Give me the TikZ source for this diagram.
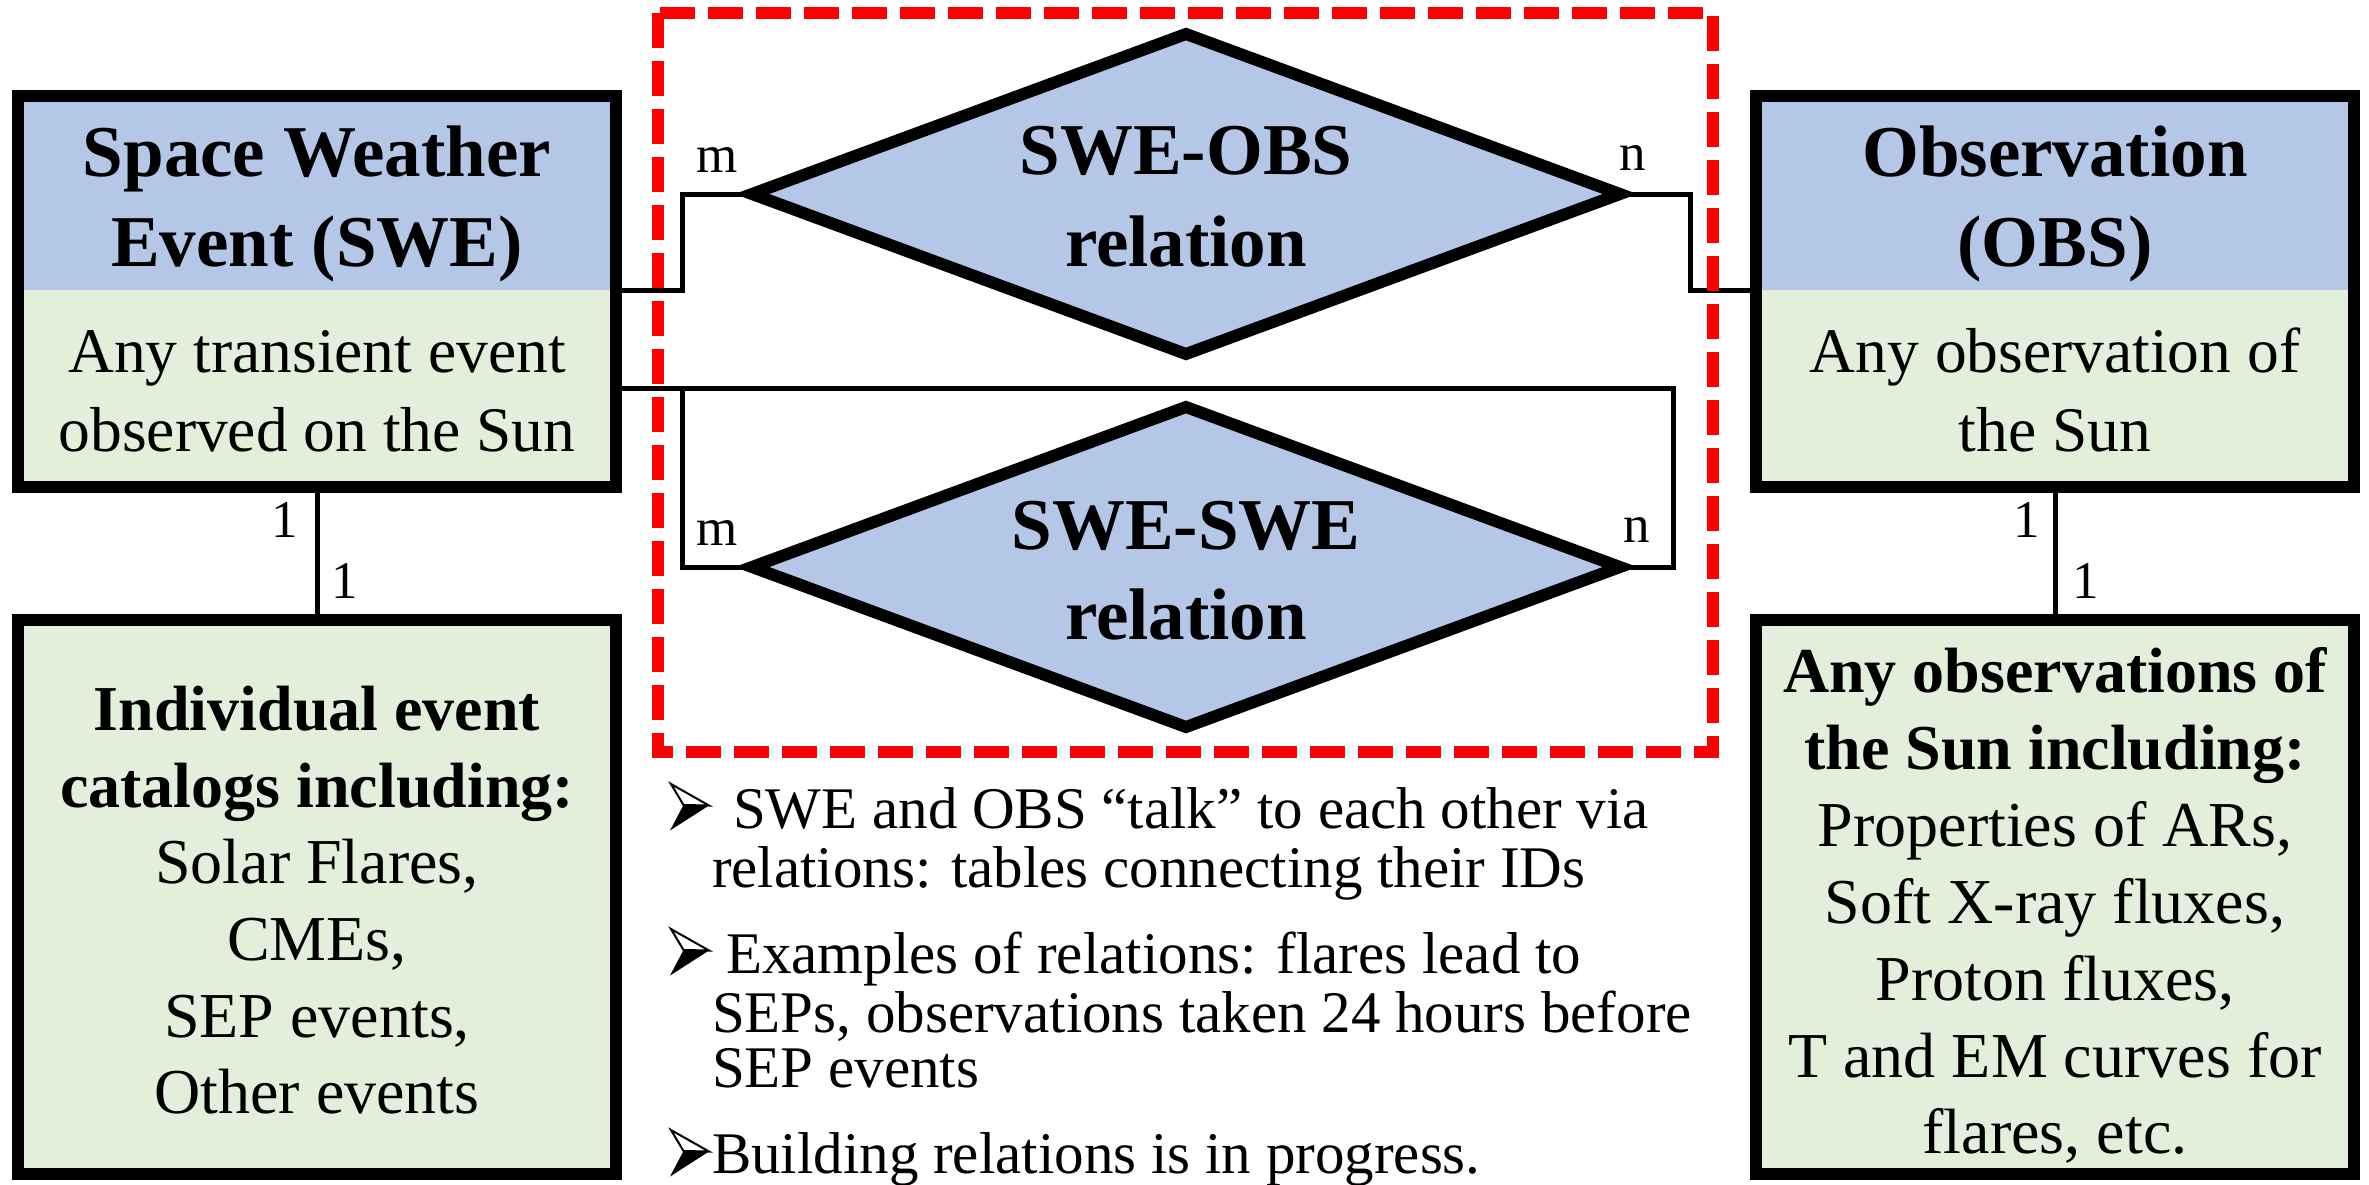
\documentclass[tikz,border=0pt]{standalone}
\usepackage{fontspec}
\setmainfont{Liberation Serif}
\usetikzlibrary{shapes.geometric,fit}

\definecolor{hdrblue}{RGB}{180,199,231}
\definecolor{bodygreen}{RGB}{226,239,218}
\definecolor{relred}{RGB}{255,0,0}

\begin{document}
\begin{tikzpicture}[x=1pt,y=-1pt,
  every node/.style={inner sep=0pt,outer sep=0pt},
  hdr/.style={rectangle,fill=hdrblue,minimum width=598pt,minimum height=194pt},
  bodybox/.style={rectangle,fill=bodygreen,minimum width=598pt,minimum height=197pt},
  frame/.style={rectangle,draw=black,line width=12pt,inner sep=0pt},
  listbox/.style={rectangle,fill=bodygreen,draw=black,line width=12pt,
    minimum width=598pt,minimum height=554pt},
  relshape/.style={diamond,fill=hdrblue,draw=black,line width=12pt,
    minimum width=868pt,minimum height=320pt},
  conn/.style={draw=black,line width=5pt},
  groupbox/.style={draw=relred,line width=12pt,dash pattern=on 35pt off 13pt},
  ttl/.style={font=\fontsize{73}{88}\selectfont\bfseries,anchor=base},
  txt/.style={font=\fontsize{63.5}{76}\selectfont,anchor=base},
  ltitle/.style={font=\fontsize{64}{77}\selectfont\bfseries,anchor=base},
  ltxt/.style={font=\fontsize{64}{77}\selectfont,anchor=base},
  card/.style={font=\fontsize{53}{64}\selectfont,anchor=base},
  note/.style={font=\fontsize{59}{57}\selectfont,anchor=base west},
  pics/arrowbullet/.style={code={
    % lit upper facet, shaded lower facet of the arrowhead bullet
    \draw[line width=2pt,fill=white,line join=miter] (0,0) -- (38,21.5) -- (12.5,21) -- cycle;
    \fill[black] (12.5,21) -- (38,21.5) -- (-1,46.5) -- cycle;
  }}
]
\useasboundingbox (0,0) rectangle (2369,1184);

% entity boxes: header and description parts
\node[hdr] (sweH) at (317,193) {};
\node[bodybox] (sweB) at (317,388.5) {};
\node[hdr] (obsH) at (2055,193) {};
\node[bodybox] (obsB) at (2055,388.5) {};

% relation diamonds
\node[relshape] (d1) at (1186,194) {};
\node[relshape] (d2) at (1186,567) {};

% catalogue boxes
\node[listbox] (sweL) at (317,896.5) {};
\node[listbox] (obsL) at (2055,896.5) {};

% connectors
\draw[conn] (sweH.south east) -- ++(66,0) |- (d1.west);
\draw[conn] (d1.east) -- ++(70,0) |- (obsH.south west);
\draw[conn] (d2.west) -- ++(-70,0) |- (sweB.east);
\draw[conn] (d2.east) -- ++(53,0) |- (sweB.east);
\draw[conn] (sweB.south) -- (sweL.north);
\draw[conn] (obsB.south) -- (obsL.north);

% entity frames
\node[frame,fit=(sweH)(sweB)] (swe) {};
\node[frame,fit=(obsH)(obsB)] (obs) {};

% entity texts
\node[ttl] (swe1) at (317,176) {Space Weather};
\node[ttl] (swe2) at (317,266) {Event (SWE)};
\node[txt] (swe3) at (317,372) {Any transient event};
\node[txt] (swe4) at (317,451) {observed on the Sun};

\node[ttl] (obs1) at (2055,176) {Observation};
\node[ttl] (obs2) at (2055,266) {(OBS)};
\node[txt] (obs3) at (2055,372) {Any observation of};
\node[txt] (obs4) at (2055,451) {the Sun};

% relation texts
\node[ttl] (r1a) at (1186,174) {SWE-OBS};
\node[ttl] (r1b) at (1186,266) {relation};
\node[ttl] (r2a) at (1186,549) {SWE-SWE};
\node[ttl] (r2b) at (1186,639) {relation};

% cardinalities
\node[card] (m1) at (717,172) {m};
\node[card] (n1) at (1633,170) {n};
\node[card] (m2) at (717,545) {m};
\node[card] (n2) at (1637,542) {n};
\node[card] (c1) at (285,537) {1};
\node[card] (c2) at (345,598) {1};
\node[card] (c3) at (2027,537) {1};
\node[card] (c4) at (2086,598) {1};

% catalogue texts
\node[ltitle] (l1) at (317,730) {Individual event};
\node[ltitle] (l2) at (317,807) {catalogs including:};
\node[ltxt] (l3) at (317,883) {Solar Flares,};
\node[ltxt] (l4) at (317,960) {CMEs,};
\node[ltxt] (l5) at (317,1037) {SEP events,};
\node[ltxt] (l6) at (317,1113) {Other events};

\node[ltitle] (o1) at (2055,692) {Any observations of};
\node[ltitle] (o2) at (2055,769) {the Sun including:};
\node[ltxt] (o3) at (2055,846) {Properties of ARs,};
\node[ltxt] (o4) at (2055,923) {Soft X-ray fluxes,};
\node[ltxt] (o5) at (2055,1000) {Proton fluxes,};
\node[ltxt] (o6) at (2055,1077) {T and EM curves for};
\node[ltxt] (o7) at (2055,1153) {flares, etc.};

% notes under the relations
\pic at (671,784) {arrowbullet};
\node[note] (t1) at (733,828) {SWE and OBS “talk” to each other via};
\node[note] (t2) at (712,887) {relations: tables connecting their IDs};
\pic at (671,929) {arrowbullet};
\node[note] (t3) at (726,973) {Examples of relations: flares lead to};
\node[note] (t4) at (712,1032) {SEPs, observations taken 24 hours before};
\node[note] (t5) at (712,1087) {SEP events};
\pic at (671,1130) {arrowbullet};
\node[note] (t6) at (712,1173) {Building relations is in progress.};

% relation group frame
\draw[groupbox] (657.5,12.5) rectangle (1712.5,752);
\end{tikzpicture}
\end{document}
